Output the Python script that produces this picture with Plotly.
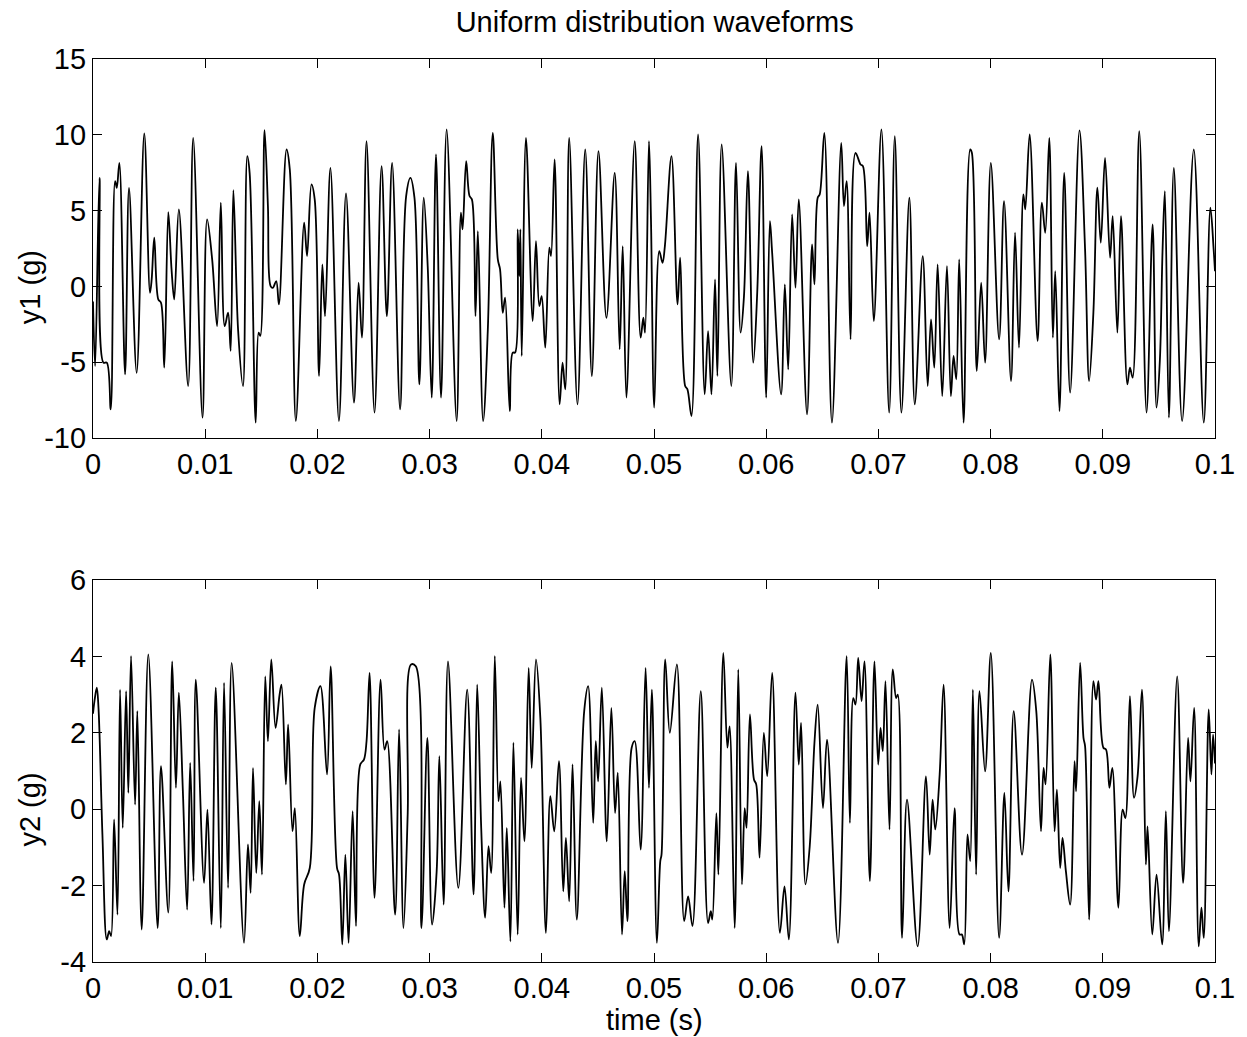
import numpy as np
import plotly.graph_objects as go

# ---- data (time in ms, acceleration in g) ----
t1_ms = [0, 0.19, 0.58, 0.93, 1.23, 1.58, 1.97, 2.12, 2.35, 2.86, 3.21, 3.89, 4.57, 5.08, 5.23, 5.46,
         5.82, 6.06, 6.35, 6.71, 7.0, 7.24, 7.65, 8.48, 8.93, 9.76, 10.17, 10.62, 11.06, 11.39, 11.74,
         12.04, 12.27, 12.51, 12.93, 13.37, 13.75, 13.96, 14.5, 14.76, 14.91, 15.29, 15.59, 15.83,
         16.03, 16.33, 16.57,
         17.25, 17.54, 18.08, 18.82, 19.08, 19.47, 19.76, 20.15, 20.44, 20.68, 21.16, 21.92, 22.55,
         23.26, 23.67, 23.97, 24.38, 25.09, 25.72, 26.19, 26.66, 27.37, 27.91, 28.29, 28.65, 29.09,
         29.48, 29.83, 30.19, 30.57, 31.02, 31.52, 32.41, 32.79, 32.94,
         33.26, 33.56, 33.77, 34.09, 34.3, 34.77, 35.19, 35.63, 36.08, 36.28, 36.52, 36.73, 37.14,
         37.41, 37.62, 37.85, 38.0, 38.09, 38.21, 38.59, 39.19, 39.48, 39.78, 39.99, 40.31, 40.67,
         40.82, 41.14, 41.59, 41.85, 42.09, 42.44, 43.18, 43.87, 44.46, 45.05, 45.76, 46.5, 46.94,
         47.21, 47.54, 48.28, 48.81, 49.05, 49.2, 49.55,
         49.73, 50.02, 50.47, 50.76, 50.97, 51.56, 52.1, 52.33, 52.78, 52.98, 53.34, 53.93, 54.52,
         54.82, 55.12, 55.44, 55.65, 56.03, 56.89, 57.31, 57.72, 58.02, 58.37, 58.85, 59.2, 59.59,
         60.0, 60.33, 60.53, 61.33, 61.66, 61.96, 62.31, 62.61, 62.9, 63.64, 64.09, 64.3, 64.59,
         64.77, 65.18, 65.86,
         66.69, 66.93, 67.17, 67.52, 67.96, 68.41, 68.62, 69.0, 69.21, 69.59, 70.27, 70.96, 71.46,
         72.05, 72.76, 73.24, 73.95, 74.39, 74.69, 74.98, 75.28, 75.69, 76.11, 76.46, 76.7, 76.94,
         77.2, 77.59, 78.18, 78.33, 78.77, 79.16, 79.51, 80.02, 80.76, 81.2, 81.82, 82.18, 82.53,
         82.92, 83.09, 83.48, 84.19, 84.57, 84.87, 85.23, 85.55, 85.76, 86.14, 86.56, 87.09, 87.92,
         88.42, 88.78, 89.16, 89.52, 89.82, 90.2, 90.65, 90.88, 91.3, 91.62, 92.19, 92.42, 92.66,
         93.25, 93.9, 94.44, 94.79, 95.09, 95.32, 95.53, 95.89, 96.33, 97.07, 98.11, 99.0, 99.59,
         99.88, 100.0]
y1_g = [-1.0, -5.25, 7.16, -5.03, -5.03, -8.11, 6.95, 6.5, 8.15, -5.8, 6.5, -5.7, 10.09, -0.42, 0.46, 3.21,
        -0.86, -1.08, -5.36, 4.9, 1.12, -0.86, 5.08, -6.57, 9.8, -8.66, 4.42, 1.78, -2.62, 5.52, -2.62,
        -1.74, -4.26, 6.35, -2.84, -6.57, 8.59, 7.49, -8.99, -3.05, -3.27, 10.31, 5.3, 0.02,
        -0.09, 0.35, -1.19,
        9.03, 7.71, -8.88, 4.2, 2.0, 6.73, 5.74, -5.91, 1.45, -1.96, 7.82, -8.88, 6.13,
        -7.67, 0.24, -3.38, 9.58, -8.33, 7.93, -1.96, 8.15, -8.11, 5.96, 7.16, 5.85, -6.46,
        5.85, 1.34, -7.34, 8.7, -7.34, 10.35, -8.88, 4.86, 3.76,
        8.26, 5.96, 5.74, -1.96, 3.65, -8.88, -2.84, 10.13, 1.78, 1.12, -1.74, -0.75, -8.22,
        -4.37, -4.37, 3.76, 0.68, 3.76, -4.59, 9.8, -2.29, 2.99, -1.3, -0.64, -4.04, 2.55,
        2.0, 8.37, -7.78, -5.03, -6.79, 9.8, -7.78, 9.03, -5.91, 8.92, -2.07, 7.49, -4.15,
        2.66, -7.34, 9.58, -3.38, -2.07, -3.05, 9.58,
        4.42, -8.0, 2.33, 1.56, 2.66, 8.59, -1.19, 1.89, -6.57, -6.79, -8.55, 10.02, -7.12,
        -2.95, -7.12, 0.46, -5.91, 9.36, -6.57, 8.15, -3.05, -0.64, 7.6, -5.03, -0.42, 9.25,
        -7.34, 4.31, 2.22, -7.12, 0.13, -5.47, 4.75, -0.09, 5.74, -8.44, 2.77, 0.13, 5.85,
        6.07, 10.13, -8.99,
        9.47, 5.3, 6.95, -3.49, 8.81, 8.04, 7.93, 2.66, 4.86, -2.29, 10.35, -8.33, 9.91,
        -8.33, 5.85, -7.78, 2.0, -6.57, -2.18, -5.36, 1.45, -7.23, 1.34, -7.23, -4.59, -6.13,
        1.78, -8.99, 9.03, 8.81, -5.58, 0.24, -5.03, 8.15, -3.49, 5.63, -6.24, 3.54, -4.04,
        6.07, 5.08, 10.02, -3.6, 5.52, 3.54, 9.8, -3.38, 1.01, -8.22, 7.49, -7.01, 10.29,
        2.44, -6.24, -1.74, 6.51, 2.88, 8.48, 1.89, 4.64, -3.05, 4.64, -6.46, -5.36, -6.02,
        10.24, -8.33, 4.09, -8.0, -4.81, 2.22, 6.29, -8.66, 7.82, -8.88, 9.03, -8.99, 5.19,
        2.44, 1.0]

t2_ms = [0, 0.13, 0.34, 0.49, 0.84, 1.23, 1.44, 1.61, 1.88, 2.18, 2.41, 2.65, 2.95, 3.15, 3.39, 3.75,
         3.95, 4.34, 4.93, 5.76, 6.06, 6.71, 7.06, 7.39, 7.65, 8.01, 8.39, 8.66, 8.96, 9.16, 9.9,
         10.2, 10.56, 10.94, 11.39, 11.68, 12.04, 12.36, 13.46, 13.81, 14.05, 14.26, 14.55, 14.82,
         15.06, 15.35, 15.59, 15.89, 16.27, 16.63,
         16.8, 17.19, 17.39, 17.78, 17.99, 18.43, 18.82, 19.32, 19.76, 20.27, 20.86, 21.18, 21.75,
         21.93, 22.22, 22.49, 22.78, 23.14, 23.44, 23.82, 24.15, 24.38, 24.65, 25.09, 25.63, 25.98,
         26.22, 26.93, 27.28, 27.67, 28.05, 28.35, 28.77, 29.27, 29.8, 30.22, 30.63, 30.87, 31.25,
         31.64, 32.56,
         33.35, 33.92, 34.24, 34.6, 34.95, 35.25, 35.49, 35.81, 36.14, 36.31, 36.67, 36.88, 37.2,
         37.47, 37.85, 38.15, 38.45, 38.83, 39.1, 39.48, 39.87, 40.37, 40.76, 41.11, 41.53, 41.91,
         42.15, 42.44, 42.74, 43.12, 43.78, 44.13, 44.58, 44.81, 45.02, 45.35, 45.79, 46.2, 46.53,
         46.77, 47.15, 47.39, 47.63, 48.01, 48.28, 48.81, 49.25, 49.55,
         49.81, 50.26, 50.56, 50.67, 51.0, 51.41, 52.04, 52.69, 53.04, 53.43, 54.17, 54.82, 55.06,
         55.2, 55.56, 55.74, 56.18, 56.54, 56.74, 57.19, 57.51, 57.84, 58.08, 58.25, 58.55, 58.91,
         59.11, 59.41, 59.79, 60.09, 60.53, 61.22, 61.63, 62.02, 62.61, 62.9, 63.11, 63.5, 63.88,
         64.3, 64.59, 65.06, 65.42,
         66.4, 67.17, 67.46, 67.76, 67.96, 68.2, 68.5, 68.76, 69.24, 69.65, 69.98, 70.19, 70.39,
         70.63, 70.99, 71.28, 71.58, 71.73, 72.11, 72.55, 73.5, 74.24, 74.57, 74.83, 75.07, 75.46,
         75.81, 76.35, 76.79, 77.23, 77.44, 77.65, 77.94, 78.18, 78.42, 78.71, 79.01, 79.51, 80.02,
         80.76, 81.23, 81.59, 82.06, 82.8,
         83.69, 84.07, 84.49, 84.72, 84.9, 85.32, 85.7, 85.91, 86.2, 86.41, 86.71, 87.09, 87.48,
         87.62, 87.98, 88.28, 88.42, 88.78, 89.16, 89.4, 89.61, 90.05, 90.29, 90.59, 90.85, 91.39,
         91.77, 92.01, 92.42, 92.78, 93.1, 93.49, 93.84, 93.99, 94.41, 94.79, 95.29, 95.62, 95.89,
         96.63, 97.16, 97.6, 97.81, 98.14, 98.55, 98.79, 99.0, 99.44, 99.68, 99.83, 100.0]
y2_g = [2.5, 2.83, 3.18, 2.65, -0.66, -3.41, -3.19, -3.32, -0.27, -2.76, 3.13, -0.49, 3.09, 0.43, 4.01, 0.12,
        2.57, -3.15, 4.05, -3.11, 1.13, -2.71, 3.87, 0.56, 3.05, 0.47, -2.63, 1.21, -1.88, 3.39, -1.93,
        -0.01, -3.02, 3.18, -3.11, 3.31, -2.06, 3.83, -3.5, -0.92, -2.19, 1.08, -1.67, 0.21,
        -1.71, 3.48, 1.78, 3.92, 2.13, 3.0,
        3.26, 0.65, 2.22, -0.58, 0.03, -3.32, -1.97, -1.54, 2.65, 3.22, 0.91, 3.74, -1.54,
        -1.71, -3.54, -1.19, -3.5, -0.05, -3.06, 1.17, 1.3, 1.78, 3.57, -2.32, 3.39, 1.56,
        1.78, -2.76, 2.09, -3.11, -0.1, 3.79, 3.74, -3.11, 1.87, -3.02, -1.62, 1.39, -2.5,
        3.87, -2.06,
        3.13, -2.23, 3.26, -0.49, -2.84, -0.97, -1.67, 4.01, 0.21, 0.73, -2.58, -0.49, -3.46,
        1.74, -3.28, 0.82, -0.84, 3.7, 1.08, 3.92, 2.39, -3.24, 0.34, -0.58, 1.26, -2.15,
        -0.75, -2.41, 1.17, -2.89, 2.57, 3.22, -0.36, 1.78, 0.73, 3.18, -0.84, 2.65, -0.1,
        0.95, -3.28, -1.62, -2.93, 1.61, 1.78, -1.06, 3.7, 0.56,
        3.13, -3.5, -1.36, -1.19, 3.92, 2.0, 3.79, -2.93, -2.28, -3.06, 3.09, -2.98, -2.67,
        -2.89, -0.1, -1.71, 4.09, 1.61, 2.17, -3.11, 3.66, -1.97, 0.03, -0.49, 2.48, 0.78,
        0.65, -1.27, 2.0, 0.86, 3.57, -3.24, -2.02, -3.41, 3.05, 1.17, 2.26, -1.97, -0.97,
        1.74, 2.74, 0.03, 1.82,
        -3.5, 4.01, -0.36, 2.91, 2.74, 3.96, 2.83, 3.87, -1.88, 3.87, 1.17, 2.13, 1.52,
        3.35, -0.53, 3.66, 2.91, 3.0, -3.37, 0.25, -3.59, 0.86, -1.19, 0.25, -0.53, 0.91,
        3.26, -3.11, 0.03, -3.28, -3.28, -3.54, -0.66, -1.36, 3.13, -1.71, 3.09, 0.99, 4.09,
        -3.37, 0.43, -2.15, 2.57, -1.19,
        3.39, 2.57, -0.58, 1.08, 0.65, 4.05, -0.58, 0.51, -1.54, -0.75, -1.62, -2.5, 1.26,
        0.47, 3.83, 1.87, 1.65, -2.89, 3.35, 2.87, 3.35, 1.61, 1.56, 0.56, 1.08, -2.58,
        -0.01, -0.23, 2.96, 0.3, 0.86, 3.13, -1.45, -0.45, -3.28, -1.71, -3.54, -0.05, -3.19,
        3.48, -1.93, 1.87, 0.73, 2.65, -3.59, -2.58, -3.37, 2.61, 0.91, 1.95, 1.2]

x_ticks = [0, 0.01, 0.02, 0.03, 0.04, 0.05, 0.06, 0.07, 0.08, 0.09, 0.1]
x_ticktext = ["0", "0.01", "0.02", "0.03", "0.04", "0.05", "0.06", "0.07", "0.08", "0.09", "0.1"]
y1_ticks = [-10, -5, 0, 5, 10, 15]
y1_ticktext = ["-10", "-5", "0", "5", "10", "15"]
y2_ticks = [-4, -2, 0, 2, 4, 6]
y2_ticktext = ["-4", "-2", "0", "2", "4", "6"]

title_text = "Uniform distribution waveforms"
xlabel = "time (s)"
y1label = "y1 (g)"
y2label = "y2 (g)"

FONT = "Liberation Sans, Arial, Helvetica, sans-serif"
FS = 29

fig = go.Figure()
fig.add_trace(go.Scatter(x=np.array(t1_ms) / 1000.0, y=y1_g, mode="lines",
                         line=dict(color="black", width=1.8, shape="spline", smoothing=1.0),
                         xaxis="x", yaxis="y", showlegend=False, hoverinfo="skip"))
fig.add_trace(go.Scatter(x=np.array(t2_ms) / 1000.0, y=y2_g, mode="lines",
                         line=dict(color="black", width=1.8, shape="spline", smoothing=1.0),
                         xaxis="x2", yaxis="y2", showlegend=False, hoverinfo="skip"))

axis_common = dict(showline=True, linecolor="black", linewidth=1.2, mirror="allticks",
                   ticks="inside", ticklen=9, tickcolor="black", showgrid=False, zeroline=False,
                   tickfont=dict(family=FONT, size=FS, color="black"))

fig.update_layout(
    width=1247, height=1037, autosize=False,
    paper_bgcolor="white", plot_bgcolor="white",
    margin=dict(l=93, r=30, t=59, b=75),
    title=dict(text=title_text, x=0.525, xanchor="center", y=1 - 22 / 1037, yanchor="middle",
               yref="container", font=dict(family=FONT, size=FS, color="black")),
    xaxis=dict(domain=[0, 1], range=[0, 0.1], tickvals=x_ticks, ticktext=x_ticktext,
               anchor="y", **axis_common),
    yaxis=dict(domain=[0.5803, 1.0], range=[-10, 15], tickvals=y1_ticks, ticktext=y1_ticktext,
               anchor="x", **axis_common),
    xaxis2=dict(domain=[0, 1], range=[0, 0.1], tickvals=x_ticks, ticktext=x_ticktext,
                anchor="y2", **axis_common),
    yaxis2=dict(domain=[0, 0.423], range=[-4, 6], tickvals=y2_ticks, ticktext=y2_ticktext,
                anchor="x2", **axis_common),
    annotations=[
        dict(text=xlabel, xref="paper", yref="paper", x=0.5, y=-0.064, xanchor="center",
             yanchor="middle", showarrow=False, font=dict(family=FONT, size=FS, color="black")),
        dict(text=y1label, xref="paper", yref="paper", x=-0.056, y=0.7475, xanchor="center",
             yanchor="middle", textangle=-90, showarrow=False,
             font=dict(family=FONT, size=FS, color="black")),
        dict(text=y2label, xref="paper", yref="paper", x=-0.056, y=0.169, xanchor="center",
             yanchor="middle", textangle=-90, showarrow=False,
             font=dict(family=FONT, size=FS, color="black")),
    ],
)

fig.write_html(
    "out.html",
    config={"responsive": False, "displayModeBar": False},
    post_script="document.body.style.margin='0';document.body.style.padding='0';"
                "document.body.style.overflow='hidden';",
)
